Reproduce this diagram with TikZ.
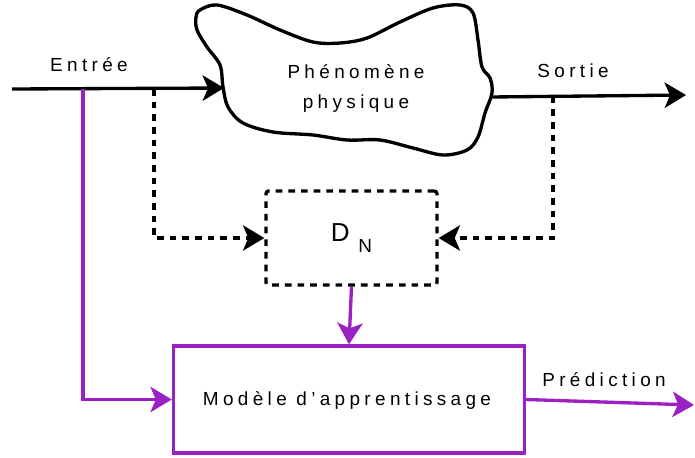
\documentclass[tikz,border=0pt]{standalone}
\usepackage{fontspec}
\setmainfont{Liberation Sans}
\newfontfamily\spacedfont[LetterSpace=23]{Liberation Sans}
\usetikzlibrary{arrows.meta}
\definecolor{modelpurple}{RGB}{155,33,197}

\begin{document}
\begin{tikzpicture}[x=0.75pt,y=-0.75pt,
  lbl/.style={font=\spacedfont\fontsize{14.2}{22.5}\selectfont, inner sep=0pt, align=center},
  tip/.style={-{Stealth[length=16pt,width=19pt,inset=4pt]}},
  flow/.style={line width=2.5pt, tip},
  sample/.style={line width=2.5pt, dash pattern=on 5pt off 4.5pt, tip},
  learn/.style={line width=2.5pt, modelpurple, tip},
  box/.style={draw, line width=2.5pt, minimum width=#1, inner sep=0pt}
]
\useasboundingbox (0,0) rectangle (695,457);

% Phenomenon as a cloud
\draw[line width=2.5pt, fill=white] plot[smooth cycle, tension=0.55] coordinates {
  (200,10) (217,5) (247,15) (280,30) (313,42) (340,43) (367,38) (400,22)
  (433,8) (460,5) (473,13) (478,40) (482,67) (490,78) (492,93) (485,113)
  (478,137) (467,150) (443,155) (413,148) (380,140) (347,140) (313,135)
  (273,132) (243,123) (228,107) (223,87) (220,65) (207,47) (197,30) (196,17)};
\node[lbl] (phen) at (356,88) {Phénomène\\physique};
\coordinate (cloudW) at (224,88);
\coordinate (cloudE) at (491,97);

% Data set and model
\node[box=171pt*0.75, dash pattern=on 5pt off 4.5pt, rounded corners=2pt,
  minimum height=94pt*0.75] (dn) at (351.5,238) {};
\node at (dn.center) {\fontsize{19.5}{20}\selectfont D\hspace{6.5pt}\raisebox{-8pt}{\fontsize{14.2}{16}\selectfont N}};
\node[box=351pt*0.75, draw=modelpurple, minimum height=107pt*0.75] (model) at (349,399.5) {};
\node[lbl, anchor=base] (modeltxt) at (347,405) {Modèle d’apprentissage};

% End points and branchings
\coordinate (in) at (12,89);
\coordinate (jpurple) at (83,89);
\coordinate (jdash) at (154,89);
\coordinate (jout) at (553,96.5);
\coordinate (out) at (686,95);
\coordinate (pred) at (694,405);

% Connectors
\draw[flow] (in) -- (cloudW);
\draw[flow] (cloudE) -- (out);
\draw[sample] (jdash) |- (dn.west);
\draw[sample] (jout) |- (dn.east);
\draw[learn] (jpurple) |- (model.west);
\draw[learn] (dn.south) -- (model.north);
\draw[learn] (model.east) -- (pred);

% Labels
\node[lbl, anchor=base] (entree) at (89,71) {Entrée};
\node[lbl, anchor=base] (sortie) at (573,77) {Sortie};
\node[lbl, anchor=base] (predtxt) at (604,386) {Prédiction};

\end{tikzpicture}
\end{document}
